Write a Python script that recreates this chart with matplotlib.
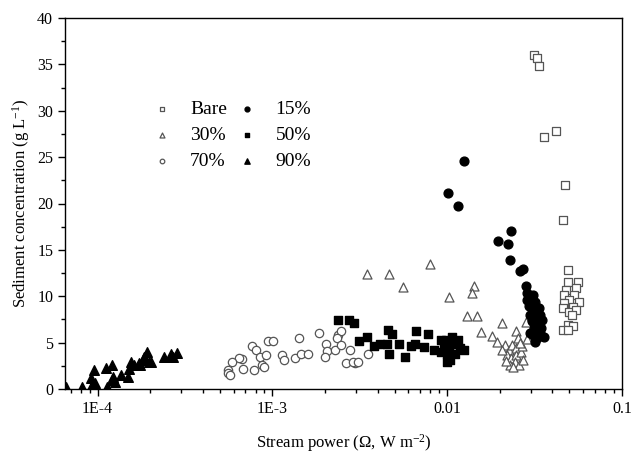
import matplotlib
matplotlib.use("Agg")
import matplotlib.pyplot as plt
from matplotlib.ticker import FixedLocator, FixedFormatter, LogLocator, MultipleLocator, NullFormatter

plt.rcParams['font.family'] = ['Liberation Serif', 'DejaVu Serif']
plt.rcParams['mathtext.default'] = 'regular'

# Bare (open squares)
bare_x = [0.0312, 0.0325, 0.0336, 0.0356, 0.042, 0.047, 0.046, 0.0493,
          0.0488, 0.0557, 0.048, 0.0545, 0.0468, 0.0534, 0.050, 0.0468, 0.057,
          0.0462, 0.0527, 0.050, 0.0545, 0.0517, 0.0493, 0.0527, 0.0462, 0.0493]
bare_y = [36.0, 35.7, 34.8, 27.2, 27.8, 22.0, 18.2, 12.8,
          11.5, 11.5, 10.7, 10.9, 10.1, 10.1, 9.6, 9.3, 9.4,
          8.7, 8.8, 8.3, 8.5, 8.0, 6.9, 6.8, 6.4, 6.4]

# 15% (filled circles)
c15_x = [0.0101, 0.0125, 0.01155, 0.0231, 0.0195, 0.0222, 0.0228, 0.026, 0.027,
         0.0281, 0.0285, 0.0308, 0.0316, 0.0292, 0.0333, 0.0296, 0.0325, 0.0304,
         0.0333, 0.0312, 0.0296, 0.0338, 0.0325, 0.0356, 0.0316, 0.0347, 0.0285,
         0.0342, 0.0308, 0.0300, 0.0320, 0.0340, 0.0310]
c15_y = [21.1, 24.6, 19.7, 17.0, 16.0, 15.6, 13.9, 12.7, 12.9,
         11.1, 10.4, 10.1, 9.4, 8.9, 8.7, 8.0, 7.8, 7.3,
         7.1, 6.6, 6.0, 6.0, 5.5, 5.6, 5.1, 7.4, 9.6,
         6.6, 8.3, 9.0, 6.3, 8.0, 5.8]

# 30% (open triangles)
c30_x = [0.00347, 0.00466, 0.00794, 0.0056, 0.0142, 0.0139, 0.0102, 0.0129, 0.0148,
         0.0156, 0.0207, 0.018, 0.0248, 0.0281, 0.0255, 0.0285,
         0.0214, 0.0226, 0.0235, 0.0249, 0.022, 0.0232, 0.0249, 0.0263, 0.0243,
         0.0229, 0.0256, 0.0272, 0.0206, 0.0192, 0.0239, 0.0269, 0.0218, 0.0260]
c30_y = [12.4, 12.4, 13.5, 11.0, 11.1, 10.3, 9.9, 7.9, 7.9,
         6.1, 7.1, 5.7, 6.3, 7.2, 5.5, 5.4,
         4.7, 4.2, 4.7, 4.4, 3.7, 3.3, 3.7, 4.0, 2.9,
         2.6, 2.6, 3.1, 4.2, 5.1, 2.4, 4.6, 3.0, 5.0]

# 50% (filled squares)
c50_x = [0.00237, 0.00273, 0.00291, 0.00311, 0.00347, 0.0038, 0.0041, 0.00456, 0.0048,
         0.0045, 0.00466, 0.00527, 0.0057, 0.0062, 0.0066, 0.0065, 0.0074, 0.0078, 0.0084,
         0.0092, 0.0096, 0.0100, 0.0107, 0.0109, 0.0104, 0.0111, 0.0116, 0.0119, 0.0124,
         0.0100, 0.0098, 0.0092, 0.0103, 0.0113]
c50_y = [7.4, 7.4, 7.1, 5.2, 5.6, 4.6, 4.8, 6.4, 5.9,
         4.8, 3.8, 4.9, 3.4, 4.6, 6.3, 4.9, 4.5, 5.9, 4.2,
         5.3, 4.6, 3.8, 5.6, 4.9, 3.1, 3.8, 5.3, 4.4, 4.2,
         2.9, 5.3, 4.0, 4.5, 4.8]

# 70% (open circles)
c70_x = [0.00185, 0.00237, 0.00247, 0.00234, 0.00142, 0.00094, 0.00101, 0.00076, 0.00081,
         0.00085, 0.00087, 0.00067, 0.00064, 0.00059, 0.00113, 0.00117, 0.00135, 0.00146,
         0.0016, 0.00203, 0.00206, 0.00227, 0.0020, 0.00247, 0.00276, 0.00264, 0.00295,
         0.0035, 0.00289, 0.0031, 0.000557, 0.00056, 0.00057, 0.00068, 0.00078, 0.00089,
         0.00092]
c70_y = [6.0, 5.8, 6.3, 5.5, 5.5, 5.2, 5.2, 4.6, 4.2,
         3.5, 2.6, 3.2, 3.3, 2.9, 3.7, 3.1, 3.3, 3.8,
         3.8, 4.9, 4.1, 4.2, 3.4, 4.7, 4.2, 2.8, 2.8,
         3.8, 2.9, 2.9, 2.1, 1.7, 1.5, 2.2, 2.1, 2.4,
         3.7]

# 90% (filled triangles)
c90_x = [0.0000658, 0.0000808, 0.000092, 0.0000949, 0.000092, 0.000096, 0.000098, 0.000113,
         0.000112, 0.00012, 0.000122, 0.000125, 0.00012, 0.000136, 0.000149, 0.000152,
         0.000155, 0.000162, 0.000173, 0.000181, 0.000185, 0.000191, 0.000197, 0.000202,
         0.00024, 0.000262, 0.000268, 0.000286, 0.000183, 0.000175]
c90_y = [0.25, 0.25, 0.25, 2.05, 1.15, 0.6, 0.25, 0.25,
         2.3, 2.6, 1.3, 0.8, 1.0, 1.5, 1.25, 2.2,
         2.9, 2.6, 2.8, 3.1, 3.5, 4.0, 2.9, 2.9,
         3.5, 3.8, 3.5, 3.9, 3.3, 2.6]

x_ticks = [1e-4, 1e-3, 1e-2, 1e-1]
x_tick_labels = ['1E-4', '1E-3', '0.01', '0.1']
y_ticks = [0, 5, 10, 15, 20, 25, 30, 35, 40]

fig = plt.figure(figsize=(6.34, 4.53), dpi=100)
ax = fig.add_axes([65/634, 1-389/453, (622-65)/634, (389-18)/453])

edge = '#555555'
h_bare = ax.scatter(bare_x, bare_y, marker='s', s=30, facecolors='white', edgecolors=edge, linewidths=0.9, zorder=3)
h30 = ax.scatter(c30_x, c30_y, marker='^', s=42, facecolors='white', edgecolors=edge, linewidths=0.9, zorder=3)
h70 = ax.scatter(c70_x, c70_y, marker='o', s=36, facecolors='white', edgecolors=edge, linewidths=0.9, zorder=3)
h15 = ax.scatter(c15_x, c15_y, marker='o', s=40, color='black', zorder=4)
h50 = ax.scatter(c50_x, c50_y, marker='s', s=34, color='black', zorder=4)
h90 = ax.scatter(c90_x, c90_y, marker='^', s=48, color='black', zorder=4)

ax.set_xscale('log')
ax.set_xlim(6.5e-5, 0.1)
ax.set_ylim(0, 40)
ax.xaxis.set_major_locator(FixedLocator(x_ticks))
ax.xaxis.set_major_formatter(FixedFormatter(x_tick_labels))
ax.xaxis.set_minor_locator(LogLocator(base=10, subs=range(2, 10)))
ax.xaxis.set_minor_formatter(NullFormatter())
ax.yaxis.set_major_locator(FixedLocator(y_ticks))
ax.yaxis.set_minor_locator(MultipleLocator(2.5))

ax.tick_params(which='major', direction='out', length=5, width=1, labelsize=11.5, top=False, right=False)
ax.tick_params(which='minor', direction='out', length=3, width=1, top=False, right=False)
for s in ax.spines.values():
    s.set_linewidth(1.0)

ax.set_xlabel('Stream power (Ω, W m$^{-2}$)', fontsize=12, labelpad=11)
ax.set_ylabel('Sediment concentration (g L$^{-1}$)', fontsize=12)

leg = ax.legend([h_bare, h30, h70, h15, h50, h90],
                ['Bare', '30%', '70%', '15%', '50%', '90%'],
                ncol=2, frameon=False, fontsize=14, markerscale=0.55,
                loc='upper left', bbox_to_anchor=(0.125, 0.824),
                handlelength=1.0, handletextpad=0.95, columnspacing=0.55,
                labelspacing=0.42)

fig.savefig('out.png', dpi=100)
